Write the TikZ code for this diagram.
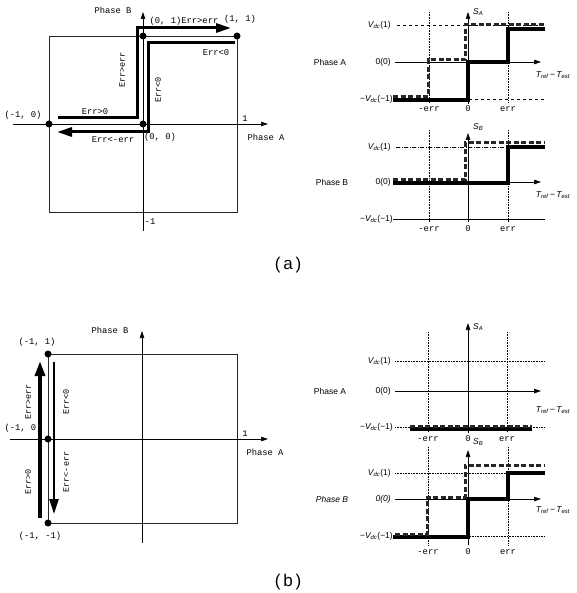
\documentclass[tikz,border=0pt]{standalone}
\usepackage{fontspec}
\setmainfont{Liberation Sans}
\newfontfamily\monof{Liberation Mono}
\usetikzlibrary{arrows.meta}
\newcommand{\Vdc}{{\itshape V}\textsubscript{\itshape dc}}
\newcommand{\Tdiff}{{\itshape T}\textsubscript{\itshape ref}\,−\,{\itshape T}\textsubscript{\itshape est}}
\begin{document}
\begin{tikzpicture}[x=1pt,y=-1pt,
  ax/.style={line width=0.6pt,-{Triangle[length=7pt,width=4.5pt]}},
  frame/.style={line width=0.6pt,draw=black!85},
  dotn/.style={circle,fill=black,inner sep=0pt,minimum size=7pt},
  lbl/.style={font=\monof\fontsize{8.8}{10}\selectfont,inner sep=0pt},
  rlbl/.style={font=\monof\fontsize{8.5}{9}\selectfont,inner sep=0pt,rotate=90},
  rl/.style={font=\fontsize{8.5}{10}\selectfont,inner sep=0pt},
  capt/.style={font=\fontsize{17}{20}\selectfont,inner sep=0pt},
  harrow/.style={line width=3pt,-{Triangle[length=15pt,width=9pt]}},
  guide/.style={line width=0.6pt,densely dotted},
  lev/.style={line width=0.6pt,dashed},
  levd/.style={line width=0.6pt,densely dotted},
  solidc/.style={line width=3.2pt},
  dashc/.style={line width=3pt,draw=black!85,dash pattern=on 5pt off 2.5pt}
]
\useasboundingbox (0,0) rectangle (576,593);

% ================= (a) left =================
\draw[frame] (49,36) rectangle (237,212);
\draw[ax] (143,231) -- (143,12);
\draw[ax] (13,124) -- (268,124);
\node[dotn] (a11) at (237,36) {};
\node[dotn] (a01) at (143,36) {};
\node[dotn] (am10) at (49,124) {};
\node[dotn] (a00) at (143,124) {};
\node[lbl] (aPB) at (113,10) {Phase B};
\node[lbl] (aPA) at (266,137) {Phase A};
\node[lbl] (a1) at (245,119) {1};
\node[lbl] (am1) at (150,222) {-1};
\node[lbl] (l01) at (184,21) {(0, 1)Err>err};
\node[lbl] (l11) at (240,19) {(1, 1)};
\node[lbl] (lm10) at (23,115) {(-1, 0)};
\node[lbl] (l00) at (160,137) {(0, 0)};
\node[lbl] (lmerr) at (113,140) {Err<-err};
\node[lbl] (lgt0) at (95,112) {Err>0};
\node[lbl] (llt0) at (216,53) {Err<0};
\node[rlbl] (lgterr) at (122,70) {Err>err};
\node[rlbl] (llt0v) at (158,90) {Err<0};
\draw[harrow] (58,118) -- (137,118) -- (137,28) -- (231,28);
\draw[harrow] (235,43) -- (148,43) -- (148,132) -- (57,132);

% ================= (a) right, Phase A =================
\draw[guide] (429,12) -- (429,102);
\draw[guide] (508,12) -- (508,102);
\draw[lev] (397,25) -- (545,25);
\draw[lev] (397,99) -- (545,99);
\draw[ax] (468,104) -- (468,12);
\draw[ax] (395,62) -- (541,62);
\draw[solidc] (393,100) -- (468,100) -- (468,62) -- (508,62) -- (508,29) -- (545,29);
\draw[dashc] (393,97) -- (428,97) -- (428,60) -- (465,60) -- (465,25) -- (545,25);
\node[rl] (raPA) at (330,62) {Phase A};
\node[rl,anchor=east] (raV1) at (391,25) {\Vdc(1)};
\node[rl,anchor=east] (ra00) at (391,62) {0(0)};
\node[rl,anchor=east] (raVm1) at (393,99) {−\Vdc(−1)};
\node[rl,anchor=west] (raSA) at (473,12) {{\itshape S}\textsubscript{\itshape A}};
\node[rl] (raT) at (553,75) {\Tdiff};
\node[lbl] (ramerr) at (429,109) {-err};
\node[lbl] (ra0) at (468,109) {0};
\node[lbl] (raerr) at (508,109) {err};

% ================= (a) right, Phase B =================
\draw[guide] (429,130) -- (429,222);
\draw[guide] (508,130) -- (508,222);
\draw[line width=0.6pt,dash pattern=on 4pt off 1.5pt on 1pt off 1.5pt] (396,147) -- (545,147);
\draw[line width=0.6pt] (393,219) -- (545,219);
\draw[ax] (468,222) -- (468,133);
\draw[ax] (395,182) -- (541,182);
\draw[solidc] (393,183) -- (508,183) -- (508,147) -- (545,147);
\draw[dashc] (393,180) -- (465,180) -- (465,143) -- (545,143);
\node[rl] (rbPB) at (332,182) {Phase B};
\node[rl,anchor=east] (rbV1) at (391,147) {\Vdc(1)};
\node[rl,anchor=east] (rb00) at (391,182) {0(0)};
\node[rl,anchor=east] (rbVm1) at (393,219) {−\Vdc(−1)};
\node[rl,anchor=west] (rbSB) at (473,127) {{\itshape S}\textsubscript{\itshape B}};
\node[rl] (rbT) at (553,195) {\Tdiff};
\node[lbl] (rbmerr) at (429,229) {-err};
\node[lbl] (rb0) at (468,229) {0};
\node[lbl] (rberr) at (508,229) {err};

\node[capt] (capa) at (288,265) {(\,a\,)};

% ================= (b) left =================
\draw[frame] (48,354) rectangle (237,523);
\draw[ax] (142,543) -- (142,331);
\draw[ax] (10,439) -- (268,439);
\node[dotn] (bm11) at (48,354) {};
\node[dotn] (bm10) at (48,439) {};
\node[dotn] (bm1m1) at (48,523) {};
\node[lbl] (bPB) at (110,330) {Phase B};
\node[lbl] (bPA) at (265,452) {Phase A};
\node[lbl] (b1) at (245,434) {1};
\node[lbl] (lbm11) at (37,342) {(-1, 1)};
\node[lbl] (lbm10) at (23,428) {(-1, 0)};
\node[lbl] (lbm1m1) at (40,536) {(-1, -1)};
\draw[line width=3.5pt,-{Triangle[length=15pt,width=10pt]}] (40,518) -- (40,361);
\draw[line width=2.6pt,-{Triangle[length=15pt,width=9pt]}] (54,362) -- (54,514);
\node[rlbl] (bgterr) at (28,402) {Err>err};
\node[rlbl] (bgt0) at (28,482) {Err>0};
\node[rlbl] (blt0) at (66,402) {Err<0};
\node[rlbl] (bltm) at (66,472) {Err<-err};

% ================= (b) right, Phase A =================
\draw[guide] (428,332) -- (428,432);
\draw[guide] (507,332) -- (507,432);
\draw[levd] (395,361) -- (545,361);
\draw[levd] (395,427) -- (545,427);
\draw[ax] (468,433) -- (468,323);
\draw[ax] (395,391) -- (541,391);
\draw[solidc] (410,429) -- (532,429);
\draw[dashc] (410,426) -- (532,426);
\node[rl] (rcPA) at (330,391) {Phase A};
\node[rl,anchor=east] (rcV1) at (391,361) {\Vdc(1)};
\node[rl,anchor=east] (rc00) at (391,391) {0(0)};
\node[rl,anchor=east] (rcVm1) at (393,427) {−\Vdc(−1)};
\node[rl,anchor=west] (rcSA) at (473,327) {{\itshape S}\textsubscript{\itshape A}};
\node[rl] (rcT) at (553,410) {\Tdiff};
\node[lbl] (rcmerr) at (428,439) {-err};
\node[lbl] (rc0) at (468,439) {0};
\node[lbl] (rcerr) at (507,439) {err};

% ================= (b) right, Phase B =================
\draw[guide] (428,447) -- (428,545);
\draw[guide] (508,447) -- (508,545);
\draw[levd] (395,473) -- (545,473);
\draw[levd] (395,536) -- (545,536);
\draw[ax] (468,545) -- (468,450);
\draw[ax] (395,499) -- (541,499);
\draw[solidc] (393,537) -- (468,537) -- (468,499) -- (508,499) -- (508,473) -- (545,473);
\draw[dashc] (395,534) -- (427,534) -- (427,497) -- (465,497) -- (465,465) -- (545,465);
\node[rl] (rdPB) at (332,499) {\itshape Phase B};
\node[rl,anchor=east] (rdV1) at (391,473) {\Vdc(1)};
\node[rl,anchor=east] (rd00) at (391,499) {\itshape 0(0)};
\node[rl,anchor=east] (rdVm1) at (393,536) {−\Vdc(−1)};
\node[rl,anchor=west] (rdSB) at (473,442) {{\itshape S}\textsubscript{\itshape B}};
\node[rl] (rdT) at (553,510) {\Tdiff};
\node[lbl] (rdmerr) at (428,552) {-err};
\node[lbl] (rd0) at (468,552) {0};
\node[lbl] (rderr) at (508,552) {err};

\node[capt] (capb) at (288,582) {(\,b\,)};
\end{tikzpicture}
\end{document}
